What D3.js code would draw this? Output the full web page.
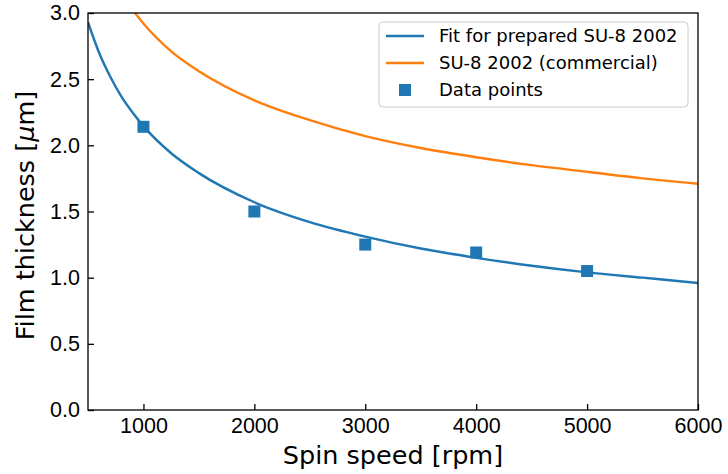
<!DOCTYPE html>
<html>
<head>
<meta charset="utf-8">
<script src="https://cdn.jsdelivr.net/npm/d3@7"></script>
<style>
  body { margin: 0; background: #fff; }
  svg { font-family: "DejaVu Sans", sans-serif; }
  .axis path, .axis line { stroke: #000; stroke-width: 1.3; }
  .axis text { font-size: 21.5px; fill: #000; }
  .axis-title { font-size: 25.5px; fill: #000; }
  .legend text { font-size: 18px; fill: #000; }
</style>
</head>
<body>
<svg id="chart"></svg>
<script>
const fitSpeeds = [500, 600, 700, 800, 900, 1000, 1250, 1500, 2000, 2500, 3000, 3500, 4000, 4500, 5000, 5500, 6000];
const fitThickness = [2.93, 2.70, 2.52, 2.37, 2.25, 2.145, 1.94, 1.79, 1.57, 1.42, 1.31, 1.22, 1.15, 1.09, 1.04, 1.00, 0.96];

const commercialSpeeds = [880, 1000, 1250, 1500, 2000, 2500, 3000, 3500, 4000, 4500, 5000, 5500, 6000];
const commercialThickness = [3.05, 2.92, 2.71, 2.56, 2.34, 2.19, 2.07, 1.98, 1.91, 1.85, 1.80, 1.75, 1.71];

// Measured data points
const dataSpeeds = [1000, 2000, 3000, 4000, 5000];
const dataThickness = [2.14, 1.50, 1.25, 1.19, 1.05];

const xTicks = [1000, 2000, 3000, 4000, 5000, 6000];
const yTicks = [0, 0.5, 1.0, 1.5, 2.0, 2.5, 3.0];

const legendLabels = ['Fit for prepared SU-8 2002', 'SU-8 2002 (commercial)', 'Data points'];

const blue = '#1f77b4', orange = '#ff7f0e';

const containerWidth = 728, containerHeight = 474;
const margin = {top: 13, right: 30, bottom: 64, left: 88};
const width = containerWidth - margin.left - margin.right;
const height = containerHeight - margin.top - margin.bottom;

const svg = d3.select('#chart')
    .attr('width', containerWidth)
    .attr('height', containerHeight);

const chart = svg.append('g')
    .attr('transform', `translate(${margin.left},${margin.top})`);

const xScale = d3.scaleLinear().domain([500, 6000]).range([0, width]);
const yScale = d3.scaleLinear().domain([0, 3.0]).range([height, 0]);

// clip so curves stop at the frame
chart.append('clipPath').attr('id', 'clip')
  .append('rect').attr('width', width).attr('height', height);

const line = d3.line()
    .x(d => xScale(d[0]))
    .y(d => yScale(d[1]))
    .curve(d3.curveMonotoneX);

const plot = chart.append('g').attr('clip-path', 'url(#clip)');

plot.append('path')
    .datum(d3.zip(fitSpeeds, fitThickness))
    .attr('d', line)
    .attr('fill', 'none')
    .attr('stroke', blue)
    .attr('stroke-width', 2.4);

plot.append('path')
    .datum(d3.zip(commercialSpeeds, commercialThickness))
    .attr('d', line)
    .attr('fill', 'none')
    .attr('stroke', orange)
    .attr('stroke-width', 2.4);

const ms = 12;
chart.selectAll('.pt')
  .data(d3.zip(dataSpeeds, dataThickness))
  .join('rect')
    .attr('class', 'pt')
    .attr('x', d => xScale(d[0]) - ms / 2)
    .attr('y', d => yScale(d[1]) - ms / 2)
    .attr('width', ms)
    .attr('height', ms)
    .attr('fill', blue);

// Axes, ticks pointing inward
const xAxis = d3.axisBottom(xScale).tickValues(xTicks).tickSizeInner(-6).tickSizeOuter(0).tickPadding(8)
    .tickFormat(d3.format('d'));
const yAxis = d3.axisLeft(yScale).tickValues(yTicks).tickSizeInner(-6).tickSizeOuter(0).tickPadding(8)
    .tickFormat(d3.format('.1f'));

chart.append('g').attr('class', 'axis x-axis')
    .attr('transform', `translate(0,${height})`)
    .call(xAxis)
    .call(g => g.select('.domain').remove());

chart.append('g').attr('class', 'axis y-axis')
    .call(yAxis)
    .call(g => g.select('.domain').remove());

// frame
chart.append('rect')
    .attr('width', width).attr('height', height)
    .attr('fill', 'none').attr('stroke', '#000').attr('stroke-width', 1.3);

// Axis titles
svg.append('text')
    .attr('class', 'axis-title')
    .attr('x', margin.left + width / 2)
    .attr('y', 464)
    .attr('text-anchor', 'middle')
    .text('Spin speed [rpm]');

const yt = svg.append('text')
    .attr('class', 'axis-title')
    .attr('transform', `translate(34,${margin.top + height / 2 + 4}) rotate(-90)`)
    .attr('text-anchor', 'middle');
yt.append('tspan').text('Film thickness [');
yt.append('tspan').attr('font-style', 'italic').text('μ');
yt.append('tspan').text('m]');

// Legend
const legend = svg.append('g').attr('class', 'legend')
    .attr('transform', 'translate(379,22)');
legend.append('rect')
    .attr('width', 309).attr('height', 85)
    .attr('rx', 4)
    .attr('fill', '#fff').attr('fill-opacity', 0.8)
    .attr('stroke', '#cccccc').attr('stroke-width', 1);

const rows = legend.selectAll('.row')
  .data(legendLabels)
  .join('g')
    .attr('class', 'row')
    .attr('transform', (d, i) => `translate(0,${14 + i * 27})`);

rows.each(function(d, i) {
  const g = d3.select(this);
  if (i < 2) {
    g.append('line')
      .attr('x1', 7).attr('x2', 45)
      .attr('stroke', i === 0 ? blue : orange)
      .attr('stroke-width', 2.4);
  } else {
    g.append('rect')
      .attr('x', 26 - ms / 2).attr('y', -ms / 2)
      .attr('width', ms).attr('height', ms)
      .attr('fill', blue);
  }
  g.append('text')
    .attr('x', 60)
    .attr('dy', '0.35em')
    .text(d);
});
</script>
</body>
</html>
